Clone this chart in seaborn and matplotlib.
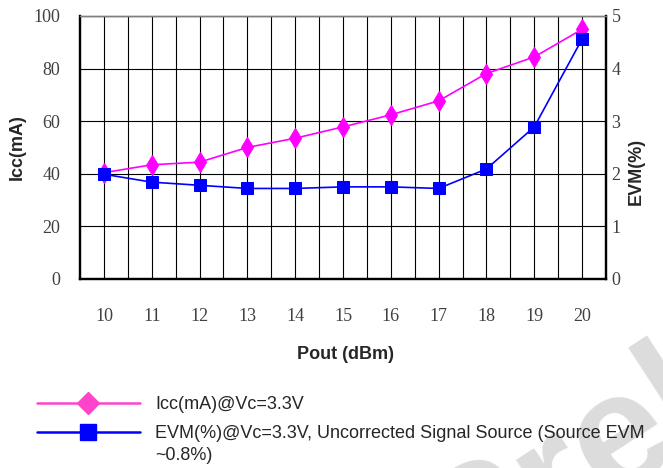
import matplotlib
matplotlib.use("Agg")
import matplotlib.pyplot as plt
from matplotlib.lines import Line2D
import seaborn as sns
import pandas as pd

# data
pout = [10, 11, 12, 13, 14, 15, 16, 17, 18, 19, 20]
icc = [40.4, 43.4, 44.4, 50.0, 53.5, 57.8, 62.4, 67.7, 78.1, 84.4, 94.9]
evm = [1.99, 1.84, 1.78, 1.72, 1.72, 1.75, 1.75, 1.72, 2.09, 2.89, 4.56]

icc_ticks = [0, 20, 40, 60, 80, 100]
evm_ticks = [0, 1, 2, 3, 4, 5]

icc_label = "Icc(mA)@Vc=3.3V"
evm_label = "EVM(%)@Vc=3.3V, Uncorrected Signal Source (Source EVM"
evm_label_2 = "~0.8%)"

df = pd.DataFrame({"pout": pout, "icc": icc, "evm": evm})

sns.set_style("white")
plt.rcParams["font.family"] = ["Liberation Sans", "DejaVu Sans"]

fig = plt.figure(figsize=(6.63, 4.68), dpi=100)

# watermark behind everything
fig.text(0.695, -0.263, "Preliminary", fontsize=118, fontweight="bold",
         color="#dcdcdc", rotation=33, rotation_mode="anchor",
         ha="left", va="baseline", zorder=-5)

ax = fig.add_axes([0.1207, 0.404, 0.7933, 0.562])
ax.patch.set_alpha(0)
ax2 = ax.twinx()

# grid: vertical every 0.5, horizontal every 20
for xv in [9.5 + 0.5 * i for i in range(1, 22)]:
    ax.axvline(xv, color="black", lw=0.8, zorder=0)
for yv in icc_ticks[1:]:
    ax.axhline(yv, color="black", lw=0.8, zorder=0)

sns.lineplot(data=df, x="pout", y="icc", ax=ax, color="#ff00ff", lw=1.2,
             marker="d", markersize=10, markeredgecolor="#ff00ff", zorder=3)
sns.lineplot(data=df, x="pout", y="evm", ax=ax2, color="#0000ff", lw=1.2,
             marker="s", markersize=8, markeredgecolor="#0000ff", zorder=4)

ax.set_xlim(9.5, 20.5)
ax.set_ylim(0, 100)
ax2.set_ylim(0, 5)
ax.set_xticks(pout)
ax.set_yticks(icc_ticks)
ax2.set_yticks(evm_ticks)

for a in (ax, ax2):
    for s in a.spines.values():
        s.set_color("black")
        s.set_linewidth(1.6)
    a.spines["top"].set_color("#808080")
    a.spines["top"].set_linewidth(1.0)

serif = ["Liberation Serif", "DejaVu Serif"]
ax.tick_params(axis="x", length=0, pad=21)
ax.tick_params(axis="y", length=0, pad=14)
ax2.tick_params(axis="y", length=0, pad=4)
for lab in ax.get_xticklabels() + ax.get_yticklabels() + ax2.get_yticklabels():
    lab.set_fontfamily(serif)
    lab.set_fontsize(13)
    lab.set_color("#404040")

ax.set_xlabel("Pout (dBm)", fontsize=13, fontweight="bold")
ax.set_ylabel("Icc(mA)", fontsize=13, fontweight="bold")
ax2.set_ylabel("EVM(%)", fontsize=13, fontweight="bold", rotation=90)
ax.xaxis.set_label_coords(0.504, -0.255)
ax.yaxis.set_label_coords(-0.103, 0.5)
ax2.yaxis.set_label_coords(1.042, 0.41)

handles = [
    Line2D([], [], color="#ff44cc", lw=1.8, marker="D", markersize=11,
           markeredgecolor="#ff44cc"),
    Line2D([], [], color="#0000ff", lw=1.8, marker="s", markersize=12,
           markeredgecolor="#0000ff"),
]
fig.legend(handles, [icc_label, evm_label], loc="upper left",
           bbox_to_anchor=(0.0558, 0.154), frameon=False, fontsize=13,
           handlelength=5.7, handletextpad=0.83, labelspacing=0.67,
           borderaxespad=0, borderpad=0)
fig.text(155 / 663, 1 - 456 / 468, evm_label_2, fontsize=13,
         ha="left", va="center")

fig.savefig("out.png", dpi=100)
